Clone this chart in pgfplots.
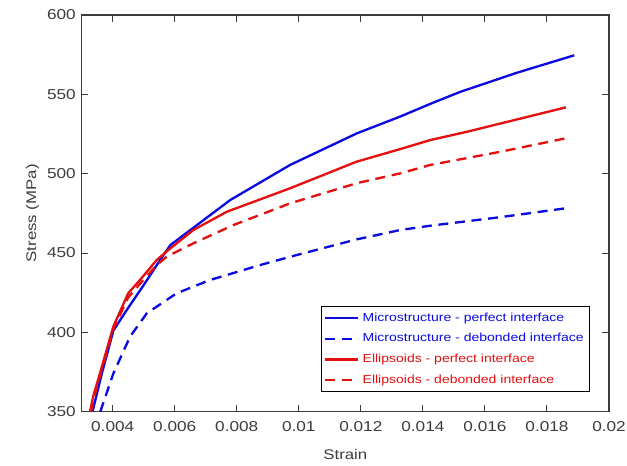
\documentclass[border=0pt]{standalone}
\usepackage{fontspec}
\setmainfont[FakeStretch=1.2]{Liberation Sans}
\usepackage{pgfplots}
\pgfplotsset{compat=1.18}

\definecolor{mblue}{RGB}{10,10,225}
\definecolor{mred}{RGB}{230,15,15}
\definecolor{tgray}{RGB}{60,60,60}

\begin{document}
\begin{tikzpicture}
\useasboundingbox (-49pt,-32pt) rectangle (327.2pt,247pt);
\begin{axis}[
  scale only axis,
  width=316.4pt, height=238pt,
  xmin=0.003, xmax=0.02,
  ymin=350, ymax=600,
  scaled x ticks=false,
  xtick={0.004,0.006,0.008,0.01,0.012,0.014,0.016,0.018,0.02},
  xticklabels={0.004,0.006,0.008,0.01,0.012,0.014,0.016,0.018,0.02},
  ytick={350,400,...,600},
  tick align=inside,
  major tick length=4pt,
  axis line style={tgray, line width=0.7pt},
  tick style={tgray, line width=0.6pt},
  ticklabel style={font=\fontsize{8.6}{10}\selectfont, text=tgray},
  xticklabel style={yshift=-2.5pt},
  /pgf/number format/assume math mode=true,
  xlabel={Strain}, ylabel={Stress (MPa)},
  label style={font=\fontsize{8.4}{10}\selectfont, text=tgray},
  xlabel style={yshift=-3.5pt},
  ylabel style={yshift=-2pt},
  legend cell align=left,
  legend style={
    at={(rel axis cs:0.964,0.05)}, anchor=south east,
    draw=black, line width=0.6pt,
    font=\fontsize{7}{8.4}\selectfont,
    inner sep=1.5pt, row sep=1.8pt,
  },
  legend image code/.code={\draw[#1] (0pt,0pt) -- (20pt,0pt);},
]
% Microstructure - perfect interface
\addplot[mblue, line width=1.4pt] coordinates {
(0.00335,350) (0.00365,374) (0.00402,401) (0.00445,414) (0.00499,429.5)
(0.00553,445.6) (0.00586,455) (0.00779,483.4) (0.00972,505.5) (0.01187,525.4)
(0.01327,536) (0.01424,544) (0.01521,551.6) (0.01703,563.6) (0.01888,574.6)
};
\addlegendentry{\textcolor{mblue}{Microstructure - perfect interface}}
% Microstructure - debonded interface
\addplot[mblue, line width=1.4pt, dash pattern=on 6pt off 4pt] coordinates {
(0.0036,350) (0.00402,374) (0.00456,397.3) (0.0051,412) (0.00606,424.6)
(0.00714,433) (0.00875,442.4) (0.00985,448.3) (0.01187,458.6) (0.01327,464.5)
(0.01424,467.2) (0.0165,472.6) (0.01861,478.2)
};
\addlegendentry{\textcolor{mblue}{Microstructure - debonded interface}}
% Ellipsoids - perfect interface
\addplot[mred, line width=1.4pt] coordinates {
(0.00327,350) (0.00337,359.5) (0.00359,374.2) (0.00402,403.6) (0.0045,424.6)
(0.00488,433) (0.00542,445.6) (0.00574,451) (0.0066,464.5) (0.00768,476)
(0.00972,490.8) (0.01187,507.6) (0.01327,515.5) (0.01424,521.2) (0.01542,526.4)
(0.01861,541.8)
};
\addlegendentry{\textcolor{mred}{Ellipsoids - perfect interface}}
% Ellipsoids - debonded interface
\addplot[mred, line width=1.4pt, dash pattern=on 6pt off 4pt] coordinates {
(0.0033,350) (0.0034,359) (0.0036,373) (0.00402,402) (0.0045,422)
(0.0049,431) (0.0054,442) (0.00574,447.7) (0.0066,456.1) (0.00789,467.6)
(0.00972,481.3) (0.01187,494) (0.01327,500.2) (0.01424,505.5) (0.0165,513.8)
(0.01861,522.3)
};
\addlegendentry{\textcolor{mred}{Ellipsoids - debonded interface}}
\end{axis}
\end{tikzpicture}
\end{document}
